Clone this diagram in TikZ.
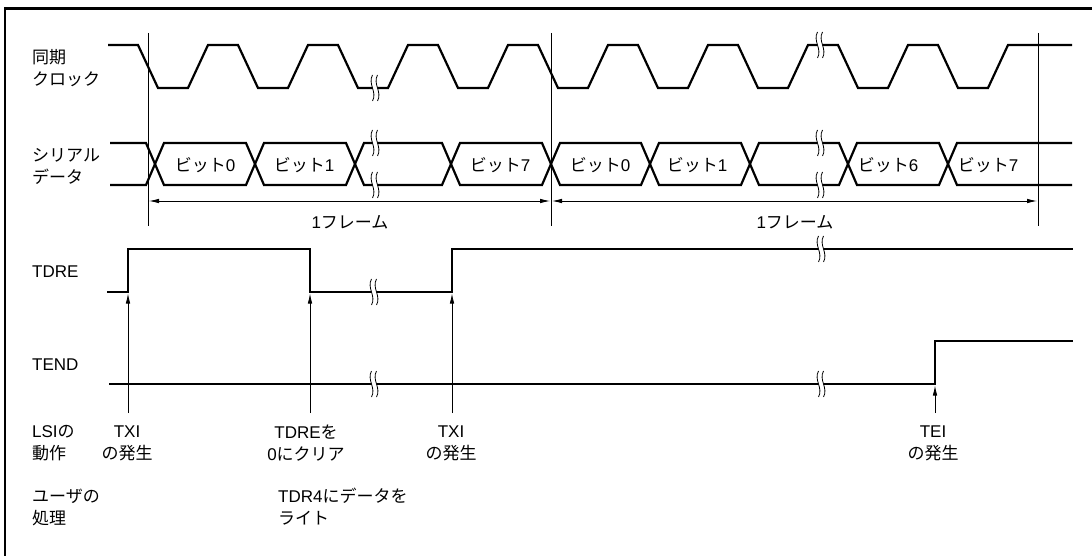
\documentclass[tikz,border=0pt]{standalone}
\usepackage{fontspec}
\setmainfont{Liberation Sans}
\newfontfamily\jpfont{Noto Sans CJK JP}
\newcommand{\jp}[1]{{\jpfont #1}}
\usetikzlibrary{arrows.meta}

\tikzset{
  sig/.style={line width=2.2pt},
  guide/.style={line width=0.8pt},
  evarrow/.style={line width=0.8pt, -{Latex[length=10pt,width=4.5pt]}},
  dimarrow/.style={line width=0.8pt, {Latex[length=10pt,width=4.5pt]}-{Latex[length=10pt,width=4.5pt]}},
  lbl/.style={inner sep=0pt, font=\fontsize{17}{22}\selectfont},
  jplbl/.style={inner sep=0pt, font=\jpfont\fontsize{17}{22}\selectfont},
  brkmark/.pic={
    \fill[white] (-2.5,-13) .. controls (-7.5,-4) and (2.5,4) .. (-2.5,13) -- (2.5,13)
      .. controls (7.5,4) and (-2.5,-4) .. (2.5,-13) -- cycle;
    \draw[line width=0.8pt] (-2.5,-13) .. controls (-7.5,-4) and (2.5,4) .. (-2.5,13);
    \draw[line width=0.8pt] (2.5,-13) .. controls (-2.5,-4) and (7.5,4) .. (2.5,13);
  }
}

\begin{document}
\begin{tikzpicture}[x=1pt, y=-1pt]
  \useasboundingbox (0,0) rectangle (1092,556);

  % Frame
  \draw[line width=2.4pt] (5,556) -- (5,8.5) -- (1092,8.5);

  % Frame boundaries
  \foreach \gx in {148,551,1038}
    \draw[guide] (\gx,33) -- (\gx,226);

  % Clock
  \draw[sig] (108,45) foreach \k in {0,...,8} { -- ({138+100*\k},45) -- ({158+100*\k},88)
    -- ({188+100*\k},88) -- ({208+100*\k},45) } -- (1072,45);

  % Serial data
  \draw[sig] (110,143) foreach \c/\p/\q in {155/143/185,255/185/143,355/143/185,451/185/143,
    551/143/185,650/185/143,750/143/185,848/185/143,948/143/185} { -- (\c-9,\p) -- (\c+9,\q) } -- (1072,185);
  \draw[sig] (110,185) foreach \c/\p/\q in {155/185/143,255/143/185,355/185/143,451/143/185,
    551/185/143,650/143/185,750/185/143,848/143/185,948/185/143} { -- (\c-9,\p) -- (\c+9,\q) } -- (1072,143);

  % TDRE and TEND
  \draw[sig] (107,292) -- (128,292) -- (128,249) -- (310,249) -- (310,292) -- (452,292)
    -- (452,249) -- (1073,249);
  \draw[sig] (109,384) -- (935,384) -- (935,341) -- (1073,341);

  % Breaks
  \foreach \bx/\by in {375/88,375/143,375/185,374/292,374/384,
    820/45,820/143,820/185,821/249,821/384}
    \pic at (\bx,\by) {brkmark};

  % Bit labels
  \foreach \nm/\bx/\bn in {bitA0/205/0, bitA1/304/1, bitA7/500/7,
    bitB0/600/0, bitB1/697/1, bitB6/888/6, bitB7/988/7}
    \node[lbl] (\nm) at (\bx,165) {\jp{ビット}\bn};

  % One frame
  \coordinate (fA) at (149,201);
  \coordinate (fB1) at (550,201);
  \coordinate (fB2) at (552,201);
  \coordinate (fC) at (1037,201);
  \draw[dimarrow] (fA) -- (fB1);
  \draw[dimarrow] (fB2) -- (fC);
  \node[lbl] (frmA) at (350,222) {1\jp{フレーム}};
  \node[lbl] (frmB) at (795,222) {1\jp{フレーム}};

  % Signal names
  \node[jplbl, align=left, anchor=west] (clklbl) at (32,68) {同期\\クロック};
  \node[jplbl, align=left, anchor=west] (datlbl) at (32,166) {シリアル\\データ};
  \node[lbl, anchor=west] (tdrelbl) at (32,272) {TDRE};
  \node[lbl, anchor=west] (tendlbl) at (32,365) {TEND};
  \node[lbl, align=left, anchor=west] (lsilbl) at (32,443) {LSI\jp{の}\\\jp{動作}};
  \node[jplbl, align=left, anchor=west] (userlbl) at (32,507) {ユーザの\\処理};

  % Events
  \foreach \nm/\ex/\ey in {evA/128/293.5, evB/310/293.5, evC/452/293.5, evD/935/385.5} {
    \coordinate (\nm top) at (\ex,\ey);
    \coordinate (\nm bot) at (\ex,413);
    \draw[evarrow] (\nm bot) -- (\nm top);
  }
  \node[lbl, align=center] (txiA) at (127,443) {TXI\\\jp{の発生}};
  \node[lbl, align=center] (clrlbl) at (306,443) {TDRE\jp{を}\\0\jp{にクリア}};
  \node[lbl, align=center] (txiB) at (451,443) {TXI\\\jp{の発生}};
  \node[lbl, align=center] (teilbl) at (933,443) {TEI\\\jp{の発生}};
  \node[lbl, align=left, anchor=west] (wrlbl) at (278,507) {TDR4\jp{にデータを}\\\jp{ライト}};
\end{tikzpicture}
\end{document}
